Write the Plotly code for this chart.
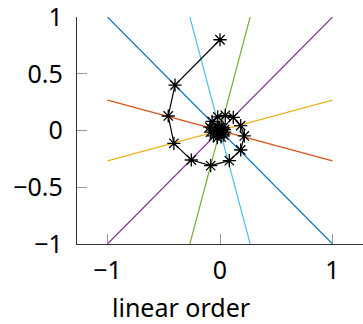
import plotly.graph_objects as go

# Reference lines through the origin (endpoints)
line_x0 = [-1, -1, -1, -1, -0.268, -0.268]
line_y0 = [1, 0.268, -0.268, -1, -1, 1]
line_x1 = [1, 1, 1, 1, 0.268, 0.268]
line_y1 = [-1, -0.268, 0.268, 1, 1, -1]
line_colors = ["#0072BD", "#D95319", "#EDB120", "#7E2F8E", "#77AC30", "#4DBEEE"]

# Spiral iterates
spiral_x = [0.0, -0.40, -0.46, -0.41, -0.255, -0.083, 0.083, 0.184, 0.216, 0.184,
            0.118, 0.047, -0.02, -0.07, -0.09, -0.085, -0.057, -0.023, 0.01, 0.033,
            0.042, 0.04, 0.027, 0.01, -0.005, -0.015, -0.018, -0.012, 0.0, 0.01, 0.008, 0.0]
spiral_y = [0.8, 0.40, 0.128, -0.113, -0.26, -0.31, -0.266, -0.172, -0.048, 0.043,
            0.116, 0.134, 0.12, 0.08, 0.03, -0.015, -0.048, -0.062, -0.057, -0.039,
            -0.015, 0.007, 0.023, 0.03, 0.028, 0.018, 0.005, -0.008, -0.012, -0.006, 0.003, 0.0]

x_ticks = [-1, 0, 1]
x_ticktext = ["\u22121", "0", "1"]
y_ticks = [-1, -0.5, 0, 0.5, 1]
y_ticktext = ["\u22121", "\u22120.5", "0", "0.5", "1"]

fig = go.Figure()
for i in range(len(line_colors)):
    fig.add_trace(go.Scatter(x=[line_x0[i], line_x1[i]], y=[line_y0[i], line_y1[i]],
                             mode="lines", line=dict(color=line_colors[i], width=1.2),
                             showlegend=False, hoverinfo="skip", cliponaxis=False))
fig.add_trace(go.Scatter(x=spiral_x, y=spiral_y, mode="lines+markers",
                         line=dict(color="black", width=1.2),
                         marker=dict(symbol="asterisk-open", size=11,
                                     line=dict(color="black", width=1.3)),
                         showlegend=False, cliponaxis=False))

font = "Noto Sans"
fig.update_layout(
    width=363, height=324,
    margin=dict(l=77, r=0, t=17, b=80, autoexpand=False),
    paper_bgcolor="white", plot_bgcolor="white",
    font=dict(family=font, size=25, color="black"),
    xaxis=dict(range=[-1.271, 1.271], tickvals=x_ticks, ticktext=x_ticktext,
               ticks="inside", ticklen=10, tickcolor="#999999", tickwidth=1,
               showline=True, linecolor="#333333", linewidth=1.3, automargin=False,
               showgrid=False, zeroline=False, ticklabelstandoff=4,
               ticklabeloverflow="allow"),
    yaxis=dict(range=[-1.0005, 1.0005], tickvals=y_ticks, ticktext=y_ticktext,
               ticks="inside", ticklen=10, tickcolor="#999999", tickwidth=1,
               showline=True, linecolor="#333333", linewidth=1.3, automargin=False,
               showgrid=False, zeroline=False, ticklabelstandoff=8,
               ticklabeloverflow="allow"),
    annotations=[dict(text="linear order", xref="paper", yref="paper",
                      x=0.364, y=-0.278, showarrow=False, xanchor="center",
                      yanchor="middle", font=dict(family=font, size=25, color="black"))],
)
fig.write_html("out.html", config={"displayModeBar": False},
               post_script="document.body.style.margin='0';")
